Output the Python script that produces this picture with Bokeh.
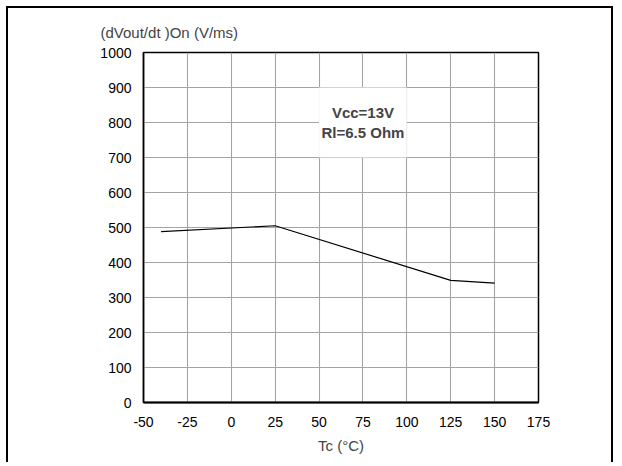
from bokeh.plotting import figure
from bokeh.models import Label, FixedTicker, Range1d
from bokeh.embed import file_html
from bokeh.resources import INLINE

# Data
tc = [-40, 25, 125, 150]
dvdt_on = [488, 505, 349, 341]
x_ticks = [-50, -25, 0, 25, 50, 75, 100, 125, 150, 175]
y_ticks = [0, 100, 200, 300, 400, 500, 600, 700, 800, 900, 1000]
note_lines = ["Vcc=13V", "Rl=6.5 Ohm"]

FONT = "Liberation Sans"

p = figure(width=607, height=456, output_backend="svg", toolbar_location=None,
           x_range=Range1d(-50, 175), y_range=Range1d(0, 1000),
           min_border_left=135, min_border_right=77, min_border_top=44, min_border_bottom=62,
           title="(dVout/dt )On (V/ms)")

p.styles = {"margin-top": "6px", "margin-left": "6px",
            "border-top": "2px solid black", "border-left": "2px solid black",
            "border-right": "2px solid black"}

p.title.text_font = FONT
p.title.text_font_size = "15px"
p.title.text_font_style = "normal"
p.title.offset = -43
p.title.standoff = 24

p.outline_line_color = "black"
p.outline_line_width = 1.5
p.background_fill_color = "white"
p.border_fill_color = "white"

for ax in (p.xaxis[0], p.yaxis[0]):
    ax.major_tick_line_color = None
    ax.minor_tick_line_color = None
    ax.major_tick_out = 0
    ax.major_tick_in = 0
    ax.major_label_text_font = FONT
    ax.major_label_text_font_size = "14px"
    ax.major_label_text_color = "black"
    ax.major_label_standoff = 12
    ax.axis_line_color = "black"
    ax.axis_line_width = 2

p.xaxis.ticker = FixedTicker(ticks=x_ticks)
p.yaxis.ticker = FixedTicker(ticks=y_ticks)
p.xaxis.major_label_overrides = {v: str(v) for v in x_ticks}
p.yaxis.major_label_overrides = {v: str(v) for v in y_ticks}
p.xaxis.major_label_standoff = 14
p.xaxis.axis_label = "Tc (°C)"
p.xaxis.axis_label_text_font = FONT
p.xaxis.axis_label_text_font_size = "15px"
p.xaxis.axis_label_text_font_style = "normal"
p.xaxis.axis_label_standoff = 7
p.yaxis[0].axis_line_width = 1.5

p.xgrid.ticker = FixedTicker(ticks=x_ticks)
p.ygrid.ticker = FixedTicker(ticks=y_ticks)
p.grid.grid_line_color = "#a4a4a4"
p.grid.grid_line_width = 1.1

# white note box covering the grid
p.quad(left=[50], right=[100], bottom=[700], top=[900], fill_color="white", line_color=None)
for txt, yy in zip(note_lines, [829, 771]):
    p.add_layout(Label(x=75, y=yy, text=txt, text_font=FONT, text_font_size="15px",
                       text_font_style="bold", text_align="center", text_baseline="middle"))

p.line(tc, dvdt_on, line_color="black", line_width=1.2)

open("out.html", "w").write(file_html(p, INLINE))
